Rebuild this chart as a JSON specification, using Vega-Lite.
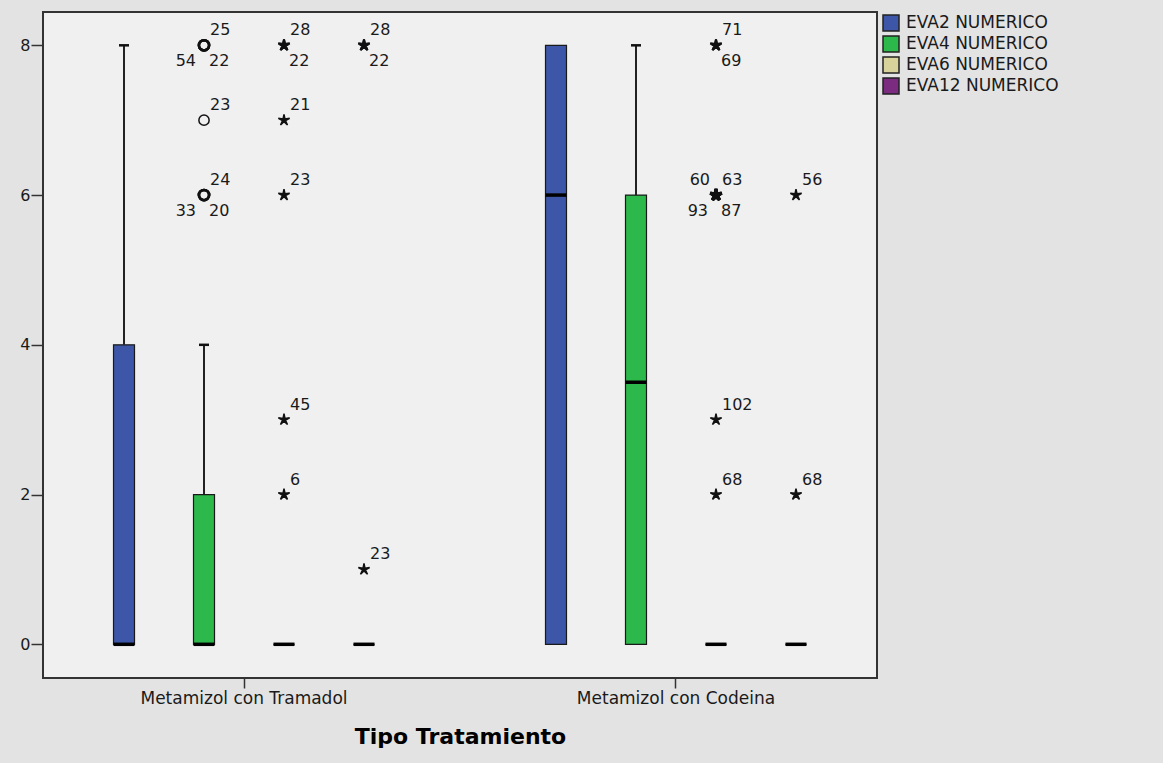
{
  "$schema": "https://vega.github.io/schema/vega-lite/v6.json",
  "autosize": {"type": "none"},
  "padding": {"left": 43, "top": 12, "right": 286, "bottom": 85},
  "width": 834,
  "height": 666,
  "background": "#e3e3e3",
  "config": {
    "view": {"fill": "#f0f0f0", "stroke": "#333333", "strokeWidth": 2},
    "font": "DejaVu Sans"
  },
  "datasets": {
    "cajas": [
      {"grupo": "Metamizol con Tramadol", "var": "EVA2 NUMERICO", "lo": 0, "q1": 0, "med": 0, "q3": 4, "hi": 8},
      {"grupo": "Metamizol con Tramadol", "var": "EVA4 NUMERICO", "lo": 0, "q1": 0, "med": 0, "q3": 2, "hi": 4},
      {"grupo": "Metamizol con Tramadol", "var": "EVA6 NUMERICO", "lo": 0, "q1": 0, "med": 0, "q3": 0, "hi": 0},
      {"grupo": "Metamizol con Tramadol", "var": "EVA12 NUMERICO", "lo": 0, "q1": 0, "med": 0, "q3": 0, "hi": 0},
      {"grupo": "Metamizol con Codeina", "var": "EVA2 NUMERICO", "lo": 0, "q1": 0, "med": 6, "q3": 8, "hi": 8},
      {"grupo": "Metamizol con Codeina", "var": "EVA4 NUMERICO", "lo": 0, "q1": 0, "med": 3.5, "q3": 6, "hi": 8},
      {"grupo": "Metamizol con Codeina", "var": "EVA6 NUMERICO", "lo": 0, "q1": 0, "med": 0, "q3": 0, "hi": 0},
      {"grupo": "Metamizol con Codeina", "var": "EVA12 NUMERICO", "lo": 0, "q1": 0, "med": 0, "q3": 0, "hi": 0}
    ],
    "atipicos": [
      {"grupo": "Metamizol con Tramadol", "var": "EVA4 NUMERICO", "valor": 8, "caso": "25", "tipo": "atipico", "esquina": "ur"},
      {"grupo": "Metamizol con Tramadol", "var": "EVA4 NUMERICO", "valor": 8, "caso": "22", "tipo": "atipico", "esquina": "lr"},
      {"grupo": "Metamizol con Tramadol", "var": "EVA4 NUMERICO", "valor": 8, "caso": "54", "tipo": "atipico", "esquina": "ll"},
      {"grupo": "Metamizol con Tramadol", "var": "EVA4 NUMERICO", "valor": 7, "caso": "23", "tipo": "atipico", "esquina": "ur"},
      {"grupo": "Metamizol con Tramadol", "var": "EVA4 NUMERICO", "valor": 6, "caso": "24", "tipo": "atipico", "esquina": "ur"},
      {"grupo": "Metamizol con Tramadol", "var": "EVA4 NUMERICO", "valor": 6, "caso": "20", "tipo": "atipico", "esquina": "lr"},
      {"grupo": "Metamizol con Tramadol", "var": "EVA4 NUMERICO", "valor": 6, "caso": "33", "tipo": "atipico", "esquina": "ll"},
      {"grupo": "Metamizol con Tramadol", "var": "EVA6 NUMERICO", "valor": 8, "caso": "28", "tipo": "extremo", "esquina": "ur"},
      {"grupo": "Metamizol con Tramadol", "var": "EVA6 NUMERICO", "valor": 8, "caso": "22", "tipo": "extremo", "esquina": "lr"},
      {"grupo": "Metamizol con Tramadol", "var": "EVA6 NUMERICO", "valor": 7, "caso": "21", "tipo": "extremo", "esquina": "ur"},
      {"grupo": "Metamizol con Tramadol", "var": "EVA6 NUMERICO", "valor": 6, "caso": "23", "tipo": "extremo", "esquina": "ur"},
      {"grupo": "Metamizol con Tramadol", "var": "EVA6 NUMERICO", "valor": 3, "caso": "45", "tipo": "extremo", "esquina": "ur"},
      {"grupo": "Metamizol con Tramadol", "var": "EVA6 NUMERICO", "valor": 2, "caso": "6", "tipo": "extremo", "esquina": "ur"},
      {"grupo": "Metamizol con Tramadol", "var": "EVA12 NUMERICO", "valor": 8, "caso": "28", "tipo": "extremo", "esquina": "ur"},
      {"grupo": "Metamizol con Tramadol", "var": "EVA12 NUMERICO", "valor": 8, "caso": "22", "tipo": "extremo", "esquina": "lr"},
      {"grupo": "Metamizol con Tramadol", "var": "EVA12 NUMERICO", "valor": 1, "caso": "23", "tipo": "extremo", "esquina": "ur"},
      {"grupo": "Metamizol con Codeina", "var": "EVA6 NUMERICO", "valor": 8, "caso": "71", "tipo": "extremo", "esquina": "ur"},
      {"grupo": "Metamizol con Codeina", "var": "EVA6 NUMERICO", "valor": 8, "caso": "69", "tipo": "extremo", "esquina": "lr"},
      {"grupo": "Metamizol con Codeina", "var": "EVA6 NUMERICO", "valor": 6, "caso": "63", "tipo": "extremo", "esquina": "ur"},
      {"grupo": "Metamizol con Codeina", "var": "EVA6 NUMERICO", "valor": 6, "caso": "87", "tipo": "extremo", "esquina": "lr"},
      {"grupo": "Metamizol con Codeina", "var": "EVA6 NUMERICO", "valor": 6, "caso": "60", "tipo": "extremo", "esquina": "ul"},
      {"grupo": "Metamizol con Codeina", "var": "EVA6 NUMERICO", "valor": 6, "caso": "93", "tipo": "extremo", "esquina": "ll"},
      {"grupo": "Metamizol con Codeina", "var": "EVA6 NUMERICO", "valor": 3, "caso": "102", "tipo": "extremo", "esquina": "ur"},
      {"grupo": "Metamizol con Codeina", "var": "EVA6 NUMERICO", "valor": 2, "caso": "68", "tipo": "extremo", "esquina": "ur"},
      {"grupo": "Metamizol con Codeina", "var": "EVA12 NUMERICO", "valor": 6, "caso": "56", "tipo": "extremo", "esquina": "ur"},
      {"grupo": "Metamizol con Codeina", "var": "EVA12 NUMERICO", "valor": 2, "caso": "68", "tipo": "extremo", "esquina": "ur"}
    ]
  },
  "encoding": {
    "x": {
      "field": "grupo", "type": "nominal",
      "sort": ["Metamizol con Tramadol", "Metamizol con Codeina"],
      "scale": {"domain": ["Metamizol con Tramadol", "Metamizol con Codeina"], "paddingInner": 0.2, "paddingOuter": 0.0653},
      "axis": {
        "title": "Tipo Tratamiento", "labelAngle": 0, "domain": false, "labelLimit": 0,
        "tickColor": "#333333", "tickWidth": 1.5, "tickSize": 10,
        "labelFont": "DejaVu Sans", "labelFontSize": 17, "labelColor": "#1a1a1a", "labelPadding": 2,
        "titleFont": "DejaVu Sans", "titleFontSize": 22, "titleFontWeight": "bold", "titleColor": "#000000", "titlePadding": 20
      }
    },
    "xOffset": {
      "field": "var", "type": "nominal",
      "sort": ["EVA2 NUMERICO", "EVA4 NUMERICO", "EVA6 NUMERICO", "EVA12 NUMERICO"],
      "scale": {"domain": ["EVA2 NUMERICO", "EVA4 NUMERICO", "EVA6 NUMERICO", "EVA12 NUMERICO"], "paddingInner": 0, "paddingOuter": 0.16}
    }
  },
  "layer": [
    {
      "data": {"name": "cajas"},
      "transform": [{"filter": "datum.hi > datum.q3"}],
      "mark": {"type": "rule", "color": "#222222", "strokeWidth": 2},
      "encoding": {
        "y": {"field": "q3", "type": "quantitative", "scale": {"domain": [-0.45, 8.445], "nice": false, "zero": false},
          "axis": {"title": null, "values": [0, 2, 4, 6, 8], "format": "d", "grid": false, "domain": false, "tickColor": "#333333", "tickWidth": 1.5, "tickSize": 12, "labelPadding": 1, "labelFont": "DejaVu Sans", "labelFontSize": 16, "labelColor": "#1a1a1a"}},
        "y2": {"field": "hi"}
      }
    },
    {
      "data": {"name": "cajas"},
      "transform": [{"filter": "datum.hi > datum.q3"}],
      "mark": {"type": "tick", "color": "#111111", "size": 10, "thickness": 2.5, "orient": "horizontal", "opacity": 1},
      "encoding": {"y": {"field": "hi", "type": "quantitative"}}
    },
    {
      "data": {"name": "cajas"},
      "mark": {"type": "bar", "width": 21, "stroke": "#1a1a1a", "strokeWidth": 1.2},
      "encoding": {
        "y": {"field": "q1", "type": "quantitative"},
        "y2": {"field": "q3"},
        "color": {
          "field": "var", "type": "nominal",
          "scale": {"domain": ["EVA2 NUMERICO", "EVA4 NUMERICO", "EVA6 NUMERICO", "EVA12 NUMERICO"], "range": ["#3d56a7", "#2db84b", "#d8d39a", "#7b2b80"]},
          "legend": {
            "title": null, "orient": "none", "legendX": 839, "legendY": 2, "padding": 0,
            "symbolType": "square", "symbolSize": 256, "symbolStrokeColor": "#222222", "symbolStrokeWidth": 1.5,
            "labelFont": "DejaVu Sans", "labelFontSize": 17, "labelColor": "#1a1a1a", "labelOffset": 6, "rowPadding": -1
          }
        }
      }
    },
    {
      "data": {"name": "cajas"},
      "mark": {"type": "tick", "color": "#000000", "size": 21, "thickness": 3.5, "orient": "horizontal", "opacity": 1},
      "encoding": {"y": {"field": "med", "type": "quantitative"}}
    },
    {
      "data": {"name": "atipicos"},
      "transform": [
        {"filter": "datum.tipo == 'atipico'"},
        {"joinaggregate": [{"op": "count", "as": "n"}], "groupby": ["grupo", "var", "valor"]}
      ],
      "mark": {"type": "point", "shape": "circle", "filled": false, "color": "#111111", "size": 105, "opacity": 1},
      "encoding": {
        "y": {"field": "valor", "type": "quantitative"},
        "strokeWidth": {"field": "n", "type": "quantitative", "scale": {"domain": [1, 3], "range": [1.5, 3]}, "legend": null}
      }
    },
    {
      "data": {"name": "atipicos"},
      "transform": [
        {"filter": "datum.tipo == 'extremo'"},
        {"joinaggregate": [{"op": "count", "as": "n"}], "groupby": ["grupo", "var", "valor"]}
      ],
      "mark": {"type": "point", "shape": "M0,-1L0.16,-0.22L0.951,-0.309L0.26,0.085L0.588,0.809L0,0.27L-0.588,0.809L-0.26,0.085L-0.951,-0.309L-0.16,-0.22Z", "filled": true, "color": "#111111", "stroke": "#111111", "size": 140, "opacity": 1},
      "encoding": {
        "y": {"field": "valor", "type": "quantitative"},
        "strokeWidth": {"field": "n", "type": "quantitative", "scale": {"domain": [1, 4], "range": [0.2, 1.8]}, "legend": null}
      }
    },
    {
      "data": {"name": "atipicos"},
      "transform": [{"filter": "datum.esquina == 'ur'"}],
      "mark": {"type": "text", "align": "left", "baseline": "middle", "dx": 6, "dy": -15, "fontSize": 16, "color": "#1a1a1a"},
      "encoding": {"y": {"field": "valor", "type": "quantitative"}, "text": {"field": "caso"}}
    },
    {
      "data": {"name": "atipicos"},
      "transform": [{"filter": "datum.esquina == 'lr'"}],
      "mark": {"type": "text", "align": "left", "baseline": "middle", "dx": 5, "dy": 16, "fontSize": 16, "color": "#1a1a1a"},
      "encoding": {"y": {"field": "valor", "type": "quantitative"}, "text": {"field": "caso"}}
    },
    {
      "data": {"name": "atipicos"},
      "transform": [{"filter": "datum.esquina == 'ul'"}],
      "mark": {"type": "text", "align": "right", "baseline": "middle", "dx": -6, "dy": -15, "fontSize": 16, "color": "#1a1a1a"},
      "encoding": {"y": {"field": "valor", "type": "quantitative"}, "text": {"field": "caso"}}
    },
    {
      "data": {"name": "atipicos"},
      "transform": [{"filter": "datum.esquina == 'll'"}],
      "mark": {"type": "text", "align": "right", "baseline": "middle", "dx": -8, "dy": 16, "fontSize": 16, "color": "#1a1a1a"},
      "encoding": {"y": {"field": "valor", "type": "quantitative"}, "text": {"field": "caso"}}
    }
  ]
}
